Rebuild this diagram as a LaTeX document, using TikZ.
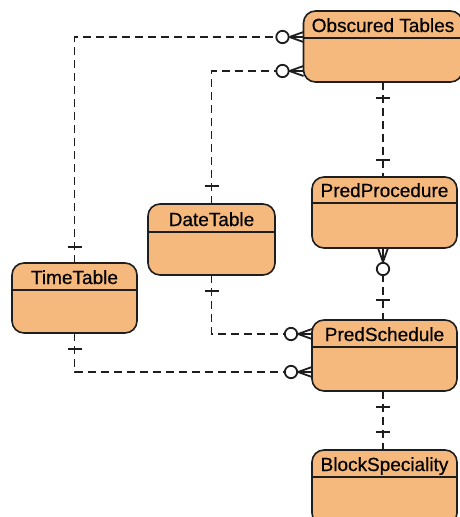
\documentclass[tikz,border=0pt]{standalone}
\usepackage{fontspec}
\setmainfont{Liberation Sans}
\newfontfamily\titlefont[FakeBold=0.5]{Liberation Sans}
\usetikzlibrary{calc}
\definecolor{entfill}{RGB}{245,184,125}
\definecolor{ink}{RGB}{30,30,30}
\tikzset{
  entity/.style={draw=ink, line width=1.6pt, fill=entfill, rounded corners=12pt,
    inner sep=0pt, outer sep=0pt},
  etitle/.style={font=\titlefont\fontsize{19}{22}\selectfont, text=black,
    inner sep=0pt, anchor=base},
  hline/.style={draw=ink, line width=1.3pt},
  conn/.style={draw=ink, line width=1.4pt, dash pattern=on 8pt off 5pt},
  endmark/.style={draw=ink, line width=1.8pt, solid},
}
% entity box: name, left, top, right, bottom, header line y, title
\newcommand\entity[7]{%
  \node[entity, minimum width={#4pt-#2pt}, minimum height={#5pt-#3pt}]
    (#1) at ({(#2+#4)/2},{(#3+#5)/2}) {};
  \draw[hline] (#1.west |- 0,#6) -- (#1.east |- 0,#6);
  \node[etitle] (#1-title) at ({(#2+#4)/2},{#6-6}) {#7};
}
% "exactly one" bar at a given distance from the box edge
\newcommand\onebar[3][16]{%
  \begin{scope}[shift={#2}, rotate=#3]
    \draw[endmark] (#1,-7) -- (#1,7);
  \end{scope}}
% "zero or many" crow's foot with circle
\newcommand\zeromany[2]{%
  \begin{scope}[shift={#1}, rotate=#2]
    \draw[endmark] (14,0) -- (0,-5) (14,0) -- (0,5) (14,0) -- (0,0);
    \draw[endmark, fill=white] (21,0) circle[radius=6.2pt];
  \end{scope}}

\begin{document}
\begin{tikzpicture}[x=1pt, y=-1pt]
\useasboundingbox (0,0) rectangle (460,517);
\clip (0,0) rectangle (460,517);

% entities
\entity{obs}{303.5}{11}{462.5}{82}{38}{Obscured Tables}
\entity{proc}{312}{177}{457}{248}{203}{PredProcedure}
\entity{time}{12}{263}{137}{333}{290}{TimeTable}
\entity{date}{148}{204}{275}{275}{232}{DateTable}
\entity{sched}{312}{320}{457}{391}{347}{PredSchedule}
\entity{block}{312}{450}{457}{525}{477}{BlockSpeciality}

% relationships
\draw[conn] (time.north) |- (obs.west |- 0,37);
\draw[conn] (date.north) |- (obs.west |- 0,71);
\draw[conn] (obs.south) -- (obs.south |- proc.north);
\draw[conn] (proc.south -| obs.south) -- (sched.north -| obs.south);
\draw[conn] (date.south) |- (sched.west |- 0,334);
\draw[conn] (time.south) |- (sched.west |- 0,372);
\draw[conn] (sched.south -| obs.south) -- (block.north -| obs.south);

% relationship ends
\zeromany{(obs.west |- 0,37)}{180}
\zeromany{(obs.west |- 0,71)}{180}
\zeromany{(sched.west |- 0,334)}{180}
\zeromany{(sched.west |- 0,372)}{180}
\zeromany{(proc.south -| obs.south)}{-90}

\onebar{(time.north)}{90}
\onebar[18]{(date.north)}{90}
\onebar{(time.south)}{-90}
\onebar{(date.south)}{-90}
\onebar{(obs.south)}{-90}
\onebar[17]{(proc.north -| obs.south)}{90}
\onebar[20]{(sched.north -| obs.south)}{90}
\onebar{(sched.south -| obs.south)}{-90}
\onebar[18]{(block.north -| obs.south)}{90}
\end{tikzpicture}
\end{document}
